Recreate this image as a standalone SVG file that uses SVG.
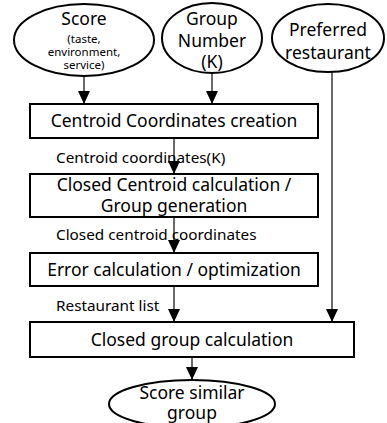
<svg xmlns="http://www.w3.org/2000/svg" width="387" height="423" viewBox="0 0 387 423">
<style>
.n{fill:#fff;stroke:#000;stroke-width:2}
.t{font-family:"Noto Sans","Noto Sans CJK KR",sans-serif;fill:#000;text-anchor:middle}
.big{font-size:17.5px}
.sm{font-size:11.5px}
.lb{font-family:"Noto Sans","Noto Sans CJK KR",sans-serif;font-size:15.3px;fill:#000}
.c{stroke:#444;stroke-width:1.6;fill:none}
</style>
<defs>
<marker id="ah" markerWidth="12" markerHeight="14" refX="13" refY="6" orient="auto" markerUnits="userSpaceOnUse">
<path d="M0,0 L13,6 L0,12 Z" fill="#000"/>
</marker>
</defs>
<rect width="387" height="423" fill="#fff"/>
<g id="connectors">
<line class="c" x1="84" y1="76" x2="84" y2="104" marker-end="url(#ah)"/>
<line class="c" x1="212" y1="73" x2="212" y2="104" marker-end="url(#ah)"/>
<line class="c" x1="332" y1="72" x2="332" y2="322" marker-end="url(#ah)"/>
<line class="c" x1="174" y1="138" x2="174" y2="174" marker-end="url(#ah)"/>
<line class="c" x1="174" y1="217" x2="174" y2="253" marker-end="url(#ah)"/>
<line class="c" x1="174" y1="286" x2="174" y2="322" marker-end="url(#ah)"/>
<line class="c" x1="192" y1="357" x2="192" y2="380" marker-end="url(#ah)"/>
<text class="lb" x="56" y="163">Centroid coordinates(K)</text>
<text class="lb" x="56" y="240">Closed centroid coordinates</text>
<text class="lb" x="56" y="311">Restaurant list</text>
</g>
<g id="score">
<ellipse class="n" cx="84" cy="40" rx="70" ry="36"/>
<text class="t big" x="84" y="25">Score</text>
<text class="t sm" x="84" y="43">(taste,</text>
<text class="t sm" x="84" y="56">environment,</text>
<text class="t sm" x="84" y="69">service)</text>
</g>
<g id="group-number">
<ellipse class="n" cx="212" cy="38" rx="50" ry="35"/>
<text class="t big" x="212" y="25">Group</text>
<text class="t big" x="212" y="47">Number</text>
<text class="t big" x="212" y="68">(K)</text>
</g>
<g id="preferred">
<ellipse class="n" cx="328" cy="38" rx="56" ry="34"/>
<text class="t big" x="328" y="36">Preferred</text>
<text class="t big" x="328" y="59">restaurant</text>
</g>
<g id="centroid-creation">
<rect class="n" x="30" y="104" width="288" height="34"/>
<text class="t big" x="174" y="127">Centroid Coordinates creation</text>
</g>
<g id="closed-centroid">
<rect class="n" x="30" y="174" width="288" height="43"/>
<text class="t big" x="174" y="191">Closed Centroid calculation /</text>
<text class="t big" x="174" y="212">Group generation</text>
</g>
<g id="error-calc">
<rect class="n" x="30" y="253" width="288" height="33"/>
<text class="t big" x="174" y="276">Error calculation / optimization</text>
</g>
<g id="closed-group">
<rect class="n" x="30" y="322" width="324" height="35"/>
<text class="t big" x="192" y="346">Closed group calculation</text>
</g>
<g id="score-similar">
<ellipse class="n" cx="192" cy="404" rx="83" ry="24"/>
<text class="t big" x="192" y="399">Score similar</text>
<text class="t big" x="192" y="419">group</text>
</g>
</svg>
